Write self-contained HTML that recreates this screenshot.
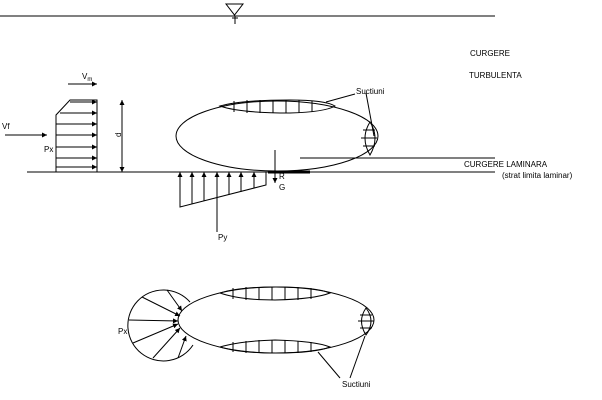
<!DOCTYPE html>
<html><head><style>
body{margin:0;background:#fff}
svg{display:block}
text{font-family:"Liberation Sans",sans-serif;font-size:8px;fill:#000}
</style></head><body>
<svg width="602" height="400" viewBox="0 0 602 400" xmlns="http://www.w3.org/2000/svg">
<defs>
<marker id="a" markerWidth="6" markerHeight="6" refX="5" refY="3" orient="auto" markerUnits="userSpaceOnUse"><path d="M0,0.5 L5,3 L0,5.5 Z" fill="#000"/></marker>
</defs>
<g stroke="#000" stroke-width="1" fill="none">
<line x1="0" y1="16" x2="495" y2="16"/>
<path d="M226,4 L243,4 L234.5,15 Z"/>
<line x1="235" y1="16" x2="235" y2="24"/><line x1="232" y1="18" x2="238" y2="18"/>
<line x1="27" y1="172" x2="495" y2="172"/>
<line x1="300" y1="158" x2="495" y2="158"/>
<line x1="268" y1="172" x2="310" y2="172" stroke-width="3"/>
<path d="M56,172 L56,115 L70,100 L97,100 L97,172"/>
<g marker-end="url(#a)">
<line x1="70" y1="102" x2="97" y2="102"/>
<line x1="60" y1="113" x2="97" y2="113"/>
<line x1="56" y1="124" x2="97" y2="124"/>
<line x1="56" y1="135" x2="97" y2="135"/>
<line x1="56" y1="147" x2="97" y2="147"/>
<line x1="56" y1="158" x2="97" y2="158"/>
<line x1="56" y1="167" x2="97" y2="167"/>
<line x1="68" y1="84" x2="97" y2="84"/>
<line x1="5" y1="135" x2="47" y2="135"/>
<line x1="122" y1="135" x2="122" y2="100"/>
<line x1="122" y1="135" x2="122" y2="172"/>
</g>
<ellipse cx="277" cy="136" rx="101" ry="35"/>
<path d="M220,106 Q240,100 290,100 Q325,100 335,106 Q325,112 290,113 Q240,113 220,106 Z"/>
<line x1="234" y1="101" x2="234" y2="112"/><line x1="247" y1="100" x2="247" y2="113"/><line x1="260" y1="100" x2="260" y2="113"/><line x1="273" y1="100" x2="273" y2="113"/><line x1="286" y1="100" x2="286" y2="113"/><line x1="299" y1="100" x2="299" y2="113"/><line x1="312" y1="101" x2="312" y2="112"/>
<path d="M370,122 Q360,138 370,155 Q380,138 370,122 Z"/>
<line x1="363" y1="130" x2="375" y2="130"/><line x1="361" y1="138" x2="377" y2="138"/><line x1="363" y1="146" x2="375" y2="146"/>
<line x1="355" y1="94" x2="326" y2="102"/>
<line x1="366" y1="93" x2="374" y2="136"/>
<path d="M180,172 L180,207 L266,185 L266,172"/>
<g marker-end="url(#a)">
<line x1="180" y1="207" x2="180" y2="172"/>
<line x1="192" y1="204" x2="192" y2="172"/>
<line x1="204" y1="201" x2="204" y2="172"/>
<line x1="229" y1="195" x2="229" y2="172"/>
<line x1="241" y1="192" x2="241" y2="172"/>
<line x1="254" y1="188" x2="254" y2="172"/>
<line x1="217" y1="232" x2="217" y2="172"/>
<line x1="275" y1="150" x2="275" y2="183"/>
</g>
<ellipse cx="276" cy="320" rx="98" ry="33"/>
<path d="M190,302 A35.5,35.5 0 1,0 193,345"/>
<path d="M220,293 Q240,287 275,287 Q315,287 330,293 Q315,299 275,300 Q240,300 220,293 Z"/>
<path d="M220,347 Q240,341 275,340 Q315,341 330,347 Q315,353 275,353 Q240,353 220,347 Z"/>
<line x1="233" y1="288" x2="233" y2="299"/><line x1="246" y1="287" x2="246" y2="300"/><line x1="259" y1="287" x2="259" y2="300"/><line x1="272" y1="287" x2="272" y2="300"/><line x1="285" y1="287" x2="285" y2="300"/><line x1="298" y1="287" x2="298" y2="300"/><line x1="311" y1="288" x2="311" y2="299"/>
<line x1="233" y1="342" x2="233" y2="352"/><line x1="246" y1="341" x2="246" y2="353"/><line x1="259" y1="340" x2="259" y2="353"/><line x1="272" y1="340" x2="272" y2="353"/><line x1="285" y1="340" x2="285" y2="353"/><line x1="298" y1="341" x2="298" y2="353"/><line x1="311" y1="342" x2="311" y2="352"/>
<path d="M366,308 Q357,321 366,335 Q376,321 366,308 Z"/>
<line x1="360" y1="315" x2="372" y2="315"/><line x1="358" y1="321" x2="374" y2="321"/><line x1="360" y1="328" x2="372" y2="328"/>
<g marker-end="url(#a)">
<line x1="167" y1="290" x2="182" y2="311"/>
<line x1="142" y1="297" x2="180" y2="316"/>
<line x1="129" y1="320" x2="178" y2="321"/>
<line x1="133" y1="343" x2="178" y2="324"/>
<line x1="153" y1="358" x2="180" y2="328"/>
<line x1="178" y1="358" x2="186" y2="336"/>
</g>
<line x1="340" y1="378" x2="318" y2="352"/>
<line x1="350" y1="378" x2="365" y2="336"/>
</g>
<text x="82" y="79">V<tspan font-size="6" dy="2">m</tspan></text>
<text x="2" y="129" font-size="9">Vf</text>
<text x="44" y="152">Px</text>
<text x="119" y="139" transform="rotate(-90 119 137)">d</text>
<text x="218" y="240">Py</text>
<text x="279" y="179">R</text>
<text x="279" y="190">G</text>
<text x="356" y="94">Suctiuni</text>
<text x="470" y="56" font-size="7">CURGERE</text>
<text x="469" y="78" font-size="7">TURBULENTA</text>
<text x="464" y="167">CURGERE LAMINARA</text>
<text x="502" y="178" font-size="7.5">(strat limita laminar)</text>
<text x="118" y="334">Px</text>
<text x="342" y="387">Suctiuni</text>
</svg>
</body></html>
